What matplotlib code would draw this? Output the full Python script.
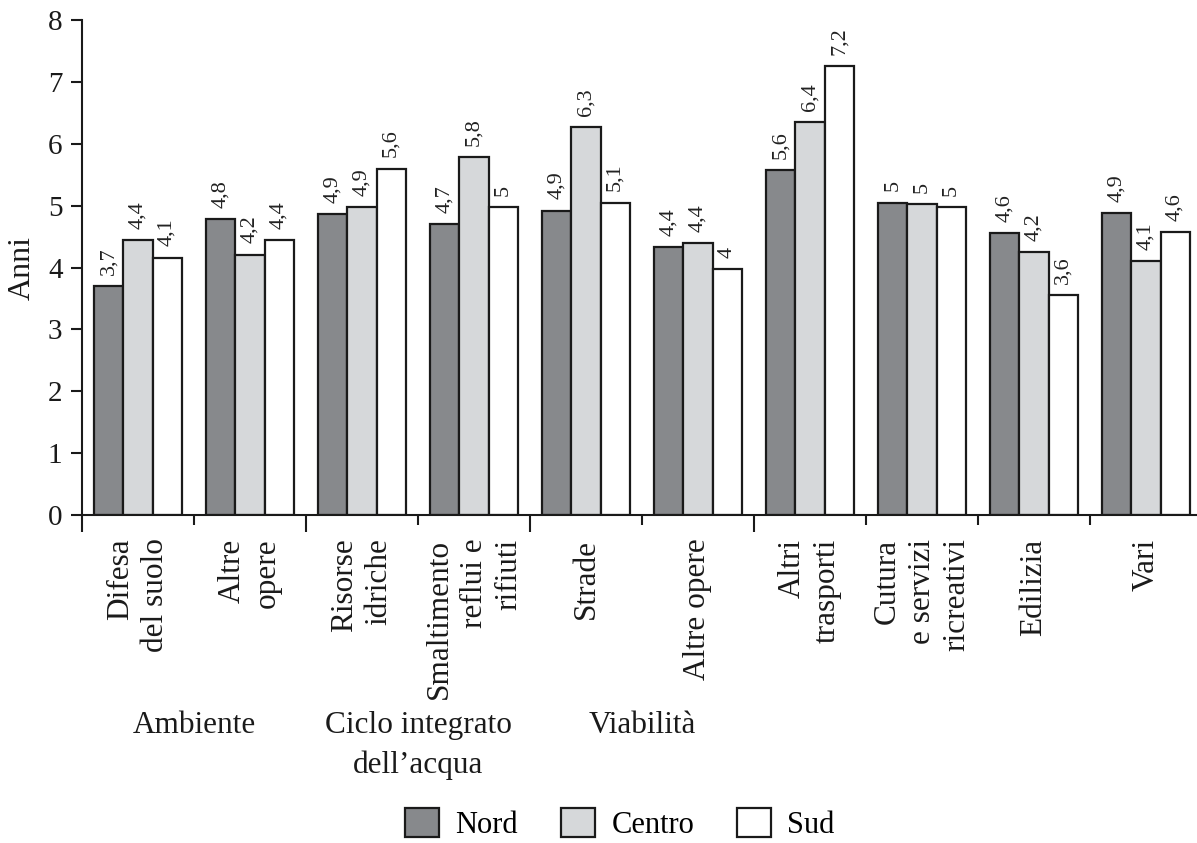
import numpy as np
import matplotlib.pyplot as plt
from matplotlib.transforms import blended_transform_factory

plt.rcParams['font.family'] = ['Liberation Serif', 'DejaVu Serif']

categories = ["Difesa\ndel suolo", "Altre\nopere", "Risorse\nidriche",
              "Smaltimento\nreflui e\nrifiuti", "Strade", "Altre opere",
              "Altri\ntrasporti", "Cutura\ne servizi\nricreativi", "Edilizia", "Vari"]
groups = ["Ambiente", "Ciclo integrato\ndell\u2019acqua", "Viabilit\u00e0"]
group_span = [(0, 2), (2, 4), (4, 6)]
series = ["Nord", "Centro", "Sud"]

nord = [3.70, 4.79, 4.87, 4.70, 4.92, 4.33, 5.58, 5.05, 4.55, 4.88]
centro = [4.44, 4.21, 4.97, 5.79, 6.27, 4.40, 6.35, 5.02, 4.25, 4.10]
sud = [4.16, 4.44, 5.60, 4.97, 5.05, 3.97, 7.25, 4.97, 3.55, 4.58]

nord_lab = ["3,7", "4,8", "4,9", "4,7", "4,9", "4,4", "5,6", "5", "4,6", "4,9"]
centro_lab = ["4,4", "4,2", "4,9", "5,8", "6,3", "4,4", "6,4", "5", "4,2", "4,1"]
sud_lab = ["4,1", "4,4", "5,6", "5", "5,1", "4", "7,2", "5", "3,6", "4,6"]

colors = ["#87898c", "#d6d8da", "#ffffff"]
W, H = 1197, 843

fig = plt.figure(figsize=(W / 100, H / 100), dpi=100)
ax = fig.add_axes([82 / W, 1 - 515 / H, 1120 / W, 495 / H])

x = np.arange(len(categories)) + 0.5
bw = 0.26
handles = []
for k, (vals, labs) in enumerate([(nord, nord_lab), (centro, centro_lab), (sud, sud_lab)]):
    bars = ax.bar(x + (k - 1) * bw, vals, bw, color=colors[k],
                  edgecolor="#1a1a1a", linewidth=1.6, label=series[k])
    handles.append(bars)
    for b, t in zip(bars, labs):
        ax.annotate(t, (b.get_x() + b.get_width() / 2, b.get_height()),
                    xytext=(0, 8), textcoords="offset points",
                    rotation=90, ha="center", va="bottom", fontsize=16, color="#222222")

ax.set_xlim(0, 10)
ax.set_ylim(0, 8)
ax.spines["top"].set_visible(False)
ax.spines["right"].set_visible(False)
for s in ["left", "bottom"]:
    ax.spines[s].set_linewidth(1.5)
    ax.spines[s].set_color("#1a1a1a")

ax.set_yticks(range(0, 9))
ax.tick_params(axis="y", length=8, width=1.5, labelsize=21, pad=6, colors="#1a1a1a")
ax.set_ylabel("Anni", fontsize=23, labelpad=8, color="#1a1a1a")

# long ticks between macro groups, short ones inside
ax.set_xticks([0, 2, 4, 6])
ax.set_xticklabels([])
ax.set_xticks([1, 3, 5, 7, 8, 9], minor=True)
ax.tick_params(axis="x", which="major", length=12, width=1.5, color="#1a1a1a")
ax.tick_params(axis="x", which="minor", length=7.5, width=1.5, color="#1a1a1a")

sec = ax.secondary_xaxis("bottom")
sec.spines["bottom"].set_visible(False)
sec.set_xticks(x)
sec.set_xticklabels(categories, rotation=90, ha="center", va="top",
                    multialignment="right", fontsize=22.5, linespacing=1.25, color="#1a1a1a")
sec.tick_params(axis="x", length=0, pad=17)

tr = blended_transform_factory(ax.transData, fig.transFigure)
for g, (a, b) in zip(groups, group_span):
    ax.text((a + b) / 2, 1 - 711 / H, g, transform=tr, ha="center", va="top",
            fontsize=22.5, linespacing=1.45, color="#1a1a1a")

fig.legend(handles=handles, loc="center", bbox_to_anchor=(620 / W, 1 - 824 / H),
           ncol=3, frameon=False, fontsize=22, handlelength=1.1, handleheight=1.1,
           handletextpad=0.55, columnspacing=1.4)

fig.savefig("out.png", dpi=100)
